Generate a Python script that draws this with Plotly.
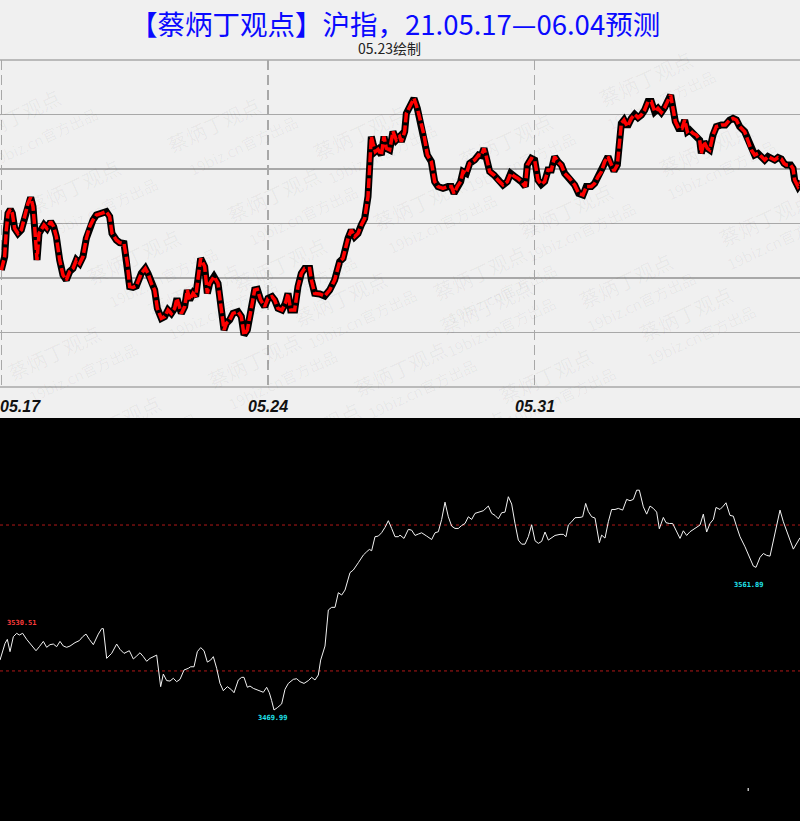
import plotly.graph_objects as go

# ---------------- data ----------------
# x unit: 15-minute bar index (16 bars per trading day)
tick_bars = [0, 80, 160]
tick_labels = ["05.17", "05.24", "05.31"]

# top panel: forecast curve
top_bar = [0,1,1.5,2,2.7,3.3,4,5,6,7, 8,8.8,9.5,10,10.7,11.3,12,12.8,13.7,14.8,
           15.7,16.5,17.5,18.5,19.5,20.5,21.5,22.5,23.5,24.5, 25.5,26.5,27.5,28.5,30,31.5,32.5,33.2,34.5,35.5,
           36.8,37.8,38.5,39.5,40.5,42,43.2,44,45,46, 46.8,48,49,50,51,52,52.7,53.3,54,55,
           55.8,56.5,57.5,58.3,59,59.8,
           61,61.8,62.5,63.8,65,66,66.8,67.5,68.5,69.5, 71,72,72.8,73.8,74.8,76,76.8,77.8,79,80,
           81.2,82,83,84.2,85.2,86,86.8,88,89,90, 91,92.5,93,94,95.5,97,98.5,100,101.5,102.5,
           104,105,106,107,108,109,110,110.5,111,111.5, 112.2,113,114,114.8,115.5,116.5,117.5,118.5,119.5,
           120,121,121.5,122.5,123.8,124.8,125.8,126.8,127.8,129, 130,131,132.5,134,135,135.8,136.8,137.8,138.5,139.5,
           140.5,142,143.2,144,144.8,145.5,146.5,147.8,149,150.5, 151.8,152.8,154,155,156,157.2,157.8,159,160,161,
           162,163,164,165,166,167,168,169,170.5,172, 173.2,174.5,175.5,177,178,179,180,
           181,182,182.8,183.8,184.8,185.5,186,186.8,187.8,189, 190,191,192,193,194,195,196,197,198,199,
           200,200.8,201.5,202.2,203.2,204.2,205,205.8,206.5,207.5, 208.5,209.5,210,210.8,211.8,212.5,213.5,214.5,216,217.2,
           218.5,219.5,220.5,221.5,223,224,225,226,227,228, 229,230,231,232,233,234,234.8,235.5,236.8,237.5,
           238,239,240]
top_val = [3518.5,3525.2,3538.5,3546.8,3548.8,3546.8,3539.3,3536.8,3538.5,3545.2, 3551.8,3554.8,3550.2,3540.2,3523.5,3536.8,3538.5,3541,3539.3,3542.7,
           3540.2,3535.2,3523.5,3516,3513.5,3517.7,3519.3,3523.5,3521.8,3525.2, 3534.3,3540.2,3543.5,3546,3546.8,3547.7,3545.2,3536.8,3533.5,3532.2,
           3531.8,3521.8,3510.2,3509.8,3510.5,3516.8,3519.3,3516.8,3511.8,3508.5, 3499.3,3494.3,3495.2,3498.5,3496.8,3499.3,3504.3,3500.2,3496.8,3500.2,
           3508.5,3503.5,3506.8,3505.2,3515.2,3524.3,
           3520.2,3506.8,3511.8,3515.2,3511.8,3498.5,3488.5,3491.8,3493.5,3496.8, 3497.7,3495.2,3486,3488.5,3498.5,3508.5,3508.8,3503.5,3500.2,3504.3,
           3505.2,3503.5,3499.3,3498.5,3501.8,3506.8,3498.5,3498.5,3510.2,3516.8, 3519.3,3519.3,3513.5,3506.8,3506.5,3505.5,3508.5,3513.5,3522.7,3524.3,
           3534.3,3538.5,3535.2,3536.8,3541,3544.3,3555.2,3570.2,3585.2,3581.8, 3577.7,3578.8,3576,3585.2,3579.3,3578.5,3587.7,3583.5,3585.2,
           3582.7,3587.7,3596.8,3600.2,3604.3,3599.3,3592.7,3586,3576,3572.7, 3562.7,3560.2,3559.3,3560.2,3560.2,3556.8,3560.2,3562.7,3567.7,3566.8,
           3571.8,3573.5,3576,3575.7,3579.3,3575.2,3567.7,3566,3563.5,3561, 3562.7,3566.8,3565.2,3564.3,3562.7,3560.2,3571,3574.3,3573.5,3563.5,
           3561.3,3562.7,3568.5,3568.5,3575.2,3572.7,3571,3566.8,3564.3,3561, 3556.8,3556,3560.2,3560.2,3561.8,3565.2,3567.5,
           3572.7,3575.2,3571.8,3568,3571,3581.8,3591.8,3593.5,3590.2,3594.3, 3596.3,3594.7,3596,3598.5,3602.7,3602.7,3597.7,3599.3,3597.3,3599.7,
           3603.5,3606,3599.3,3592.7,3589.3,3589.3,3593.5,3587.7,3588.5,3586.8, 3586,3583.5,3576.8,3582.7,3579.3,3578.5,3586,3590.2,3591,3591,
           3593.5,3594.3,3593.5,3590.2,3587.7,3583.5,3578.5,3576,3576.8,3575.2, 3573.5,3575.2,3574.3,3573.5,3574.7,3574,3571.8,3571,3571,3569.3,
           3563.5,3560.2,3562.7]
top_grid = [3460, 3487.25, 3514.5, 3541.75, 3569, 3596.25, 3623.5]

# bottom panel: actual index curve
bot_bar = [0,1.5,2.2,3,4,5,5.8,6.8,8,9.5, 10.8,11.8,13,14,15,16,17,18,19,20,
           21,22.5,23.8,24.8,25.8,26.8,28,29.5,30.5,31, 32,33.5,34,35,36,37.2,38.8,40,41,42,
           43,44,45,46,47,48.2,49,50,51,52, 53,54,55.2,56.5,57.2,58.2,59.2,60.2,61.2,62.2,
           63.2,64,65,66,67,68.2,69.5,70.2,71.5,72.5, 73.2,74.2,75,76,77.5,79,80,80.8,81.5,82.2,
           83.2,84.5,85.5,86.5,88,89,90,91.2,92.5,93.5, 94.5,95.5,96.2,97,97.5,98.5,99.5,100.5,101.5,102.5,
           103.5,105,106,107.5,109,110,110.8,111.5,112.5,113.5, 114.5,115.5,116.5,117.5,118.5,119.5,
           120,121.2,122.5,123.5,124.5,125.5,126.5,128,129.5,130.5, 131.5,132.5,133.5,134.5,135.5,136.5,137.5,138.5,139.5,140.5,
           141.5,142.5,144,145,146.5,147.5,148.5,149.5,150.5,151.5, 152.5,153.5,154.5,155.5,156.5,157.5,158.5,159.5,160.5,161.5,
           162.5,163.5,164.5,165.5,166.5,168,169,169.8,170.5,171.5, 172.5,174,174.8,175.7,176.5,177.5,178.5,179.8,180.5,181.5,
           182.5,183.5,184.5,185.5,186.8,188,189,190,191,191.8, 192.5,193,194,195,196,197,197.8,199,199.8,200.8,
           201.8,202.8,204,205,206,207,208,209,210,211, 212,213,214,214.8,216,217,217.8,219,220,221,
           222,223.5,224.8,226,226.8,228,229,230,231,232.5, 234,235,236,237,238,239,240]
bot_val = [3502.1,3512.8,3515.4,3507.5,3517.1,3519.3,3518.2,3519.3,3515.4,3511.1, 3508.1,3510.7,3514.1,3510.3,3512.0,3512.4,3510.7,3514.1,3511.1,3510.3,
           3511.1,3513.3,3514.6,3517.1,3518.8,3515.4,3512.0,3518.8,3522.3,3522.3, 3503.2,3506.4,3508.6,3512.4,3509.0,3506.4,3508.1,3502.8,3504.7,3506.8,
           3504.3,3501.3,3503.2,3504.3,3505.3,3485.0,3493.1,3488.9,3488.6,3490.4, 3488.2,3489.7,3495.7,3496.8,3497.8,3497.8,3507.5,3510.1,3508.1,3500.8,
           3502.1,3504.3,3496.8,3487.1,3482.4,3485.0,3482.9,3481.1,3489.3,3491.0, 3491.0,3484.6,3485.4,3483.9,3482.4,3481.4,3484.6,3481.1,3476.0,3470.0,
           3471.5,3473.9,3483.3,3487.1,3489.7,3490.1,3488.2,3487.1,3488.9,3491.0, 3489.3,3492.5,3502.1,3508.1,3511.1,3534.3,3536.0,3536.0,3545.4,3543.9,
           3547.1,3558.3,3560.0,3564.7,3569.6,3571.7,3573.2,3572.4,3581.4,3581.8, 3584.0,3587.4,3591.7,3586.7,3581.4,3581.4,
           3582.4,3580.3,3586.1,3585.6,3582.2,3583.1,3583.9,3581.8,3579.6,3583.9, 3584.6,3592.5,3603.6,3594.2,3588.2,3586.7,3586.7,3588.6,3589.9,3594.2,
           3592.5,3596.4,3597.2,3598.1,3601.1,3596.4,3595.1,3592.9,3596.8,3597.2, 3607.1,3602.4,3589.9,3579.2,3576.6,3576.6,3581.4,3589.1,3578.8,3577.1,
           3578.4,3584.4,3579.2,3580.9,3582.2,3582.9,3582.9,3581.4,3588.9,3591.0, 3593.6,3593.8,3594.2,3602.8,3597.6,3594.2,3593.4,3577.5,3582.4,3580.5,
           3591.0,3598.9,3598.9,3599.6,3598.5,3605.4,3604.5,3605.4,3611.3,3611.3, 3604.5,3600.6,3595.9,3601.1,3599.6,3597.2,3586.5,3593.8,3590.4,3589.9,
           3589.9,3585.2,3580.3,3585.2,3582.2,3584.6,3586.1,3587.4,3588.9,3595.9, 3584.4,3589.9,3592.5,3600.2,3598.9,3601.1,3603.2,3595.1,3594.6,3587.8,
           3581.4,3574.9,3568.5,3562.5,3561.7,3568.1,3570.6,3569.4,3568.9,3583.5, 3598.5,3591.0,3584.6,3579.2,3573.4,3577.5,3580.7]
bot_levels = [3588.9, 3495.1]
bot_label_text = ["3530.51", "3469.99", "3561.89"]
bot_label_bar = [6.6, 81.9, 224.7]
bot_label_val = [3525.9, 3464.8, 3550.3]
bot_label_color = ["#ff3c3c", "#22e6f0", "#22e6f0"]

title_text = "【蔡炳丁观点】沪指，21.05.17—06.04预测"
subtitle_text = "05.23绘制"
wm_main = "蔡炳丁观点"
wm_sub = "19biz.cn官方出品"

# ---------------- figure ----------------
W, H = 800, 821
TOP_DOM = [(H - 387) / H, (H - 60) / H]
BOT_DOM = [0, (H - 418) / H]
GRID = "#a8a8a8"

fig = go.Figure()

fig.add_trace(go.Scatter(x=top_bar, y=top_val, mode="lines", xaxis="x", yaxis="y",
                         line=dict(color="#000000", width=7), hoverinfo="skip"))
fig.add_trace(go.Scatter(x=top_bar, y=top_val, mode="lines", xaxis="x", yaxis="y",
                         line=dict(color="#ff0000", width=3.5, dash="10px,3px"), hoverinfo="skip"))
fig.add_trace(go.Scatter(x=bot_bar, y=bot_val, mode="lines", xaxis="x2", yaxis="y2",
                         line=dict(color="#f2f2f2", width=1), hoverinfo="skip"))

shapes = [dict(type="rect", xref="paper", yref="paper", x0=0, x1=1, y0=BOT_DOM[0], y1=BOT_DOM[1],
               fillcolor="#000000", line=dict(width=0), layer="below")]
# top/bottom borders of the upper plot area (gridlines at range edges)
for yd in (0, 1):
    shapes.append(dict(type="line", xref="x domain", yref="y domain", x0=0, x1=1, y0=yd, y1=yd,
                       line=dict(color=GRID, width=1.5), layer="below"))
for lv in bot_levels:
    shapes.append(dict(type="line", xref="x2 domain", yref="y2", x0=0, x1=1, y0=lv, y1=lv,
                       line=dict(color="#b01818", width=1, dash="dot"), layer="below"))
# tiny mark in bottom panel
shapes.append(dict(type="rect", xref="paper", yref="paper", x0=747.5 / W, x1=749 / W,
                   y0=(H - 791) / H, y1=(H - 788) / H, fillcolor="#bbbbbb", line=dict(width=0)))

annotations = []
# watermark lattice
for i in range(-3, 9):
    for j in range(-1, 7):
        px = -40 + i * 140 + j * 60
        py = 80 + j * 70 - i * 62
        if -60 < px < 860 and 40 < py < 440:
            annotations.append(dict(xref="paper", yref="paper", x=px / W, y=(H - py) / H,
                                    text=wm_main, showarrow=False, textangle=-25,
                                    font=dict(family="Noto Sans CJK SC", size=20, color="rgba(0,0,0,0.045)")))
            annotations.append(dict(xref="paper", yref="paper", x=(px + 22) / W, y=(H - py - 20) / H,
                                    text=wm_sub, showarrow=False, textangle=-25,
                                    font=dict(family="Noto Sans CJK SC", size=15, color="rgba(0,0,0,0.045)")))

annotations.append(dict(xref="paper", yref="paper", x=395 / W, y=(H - 23) / H, text=title_text,
                        showarrow=False, xanchor="center", yanchor="middle",
                        font=dict(family="Noto Sans CJK SC", size=27.5, color="#0a0aff")))
annotations.append(dict(xref="paper", yref="paper", x=389 / W, y=(H - 48) / H, text=subtitle_text,
                        showarrow=False, xanchor="center", yanchor="middle",
                        font=dict(family="Noto Sans CJK SC", size=14, color="#222222")))
for k, (tb, tl) in enumerate(zip(tick_bars, tick_labels)):
    annotations.append(dict(xref="x", yref="paper", x=tb, y=(H - 406) / H, text="<b><i>" + tl + "</i></b>",
                            showarrow=False, xanchor="left" if k == 0 else "center", yanchor="middle",
                            xshift=-3 if k == 0 else 0,
                            font=dict(family="Liberation Sans", size=16, color="#111111")))
for t, bx, bv, c in zip(bot_label_text, bot_label_bar, bot_label_val, bot_label_color):
    annotations.append(dict(xref="x2", yref="y2", x=bx, y=bv, text="<b>" + t + "</b>", showarrow=False,
                            xanchor="center", yanchor="middle",
                            font=dict(family="DejaVu Sans Mono", size=7, color=c)))

fig.update_layout(
    width=W, height=H, autosize=False,
    margin=dict(l=0, r=0, t=0, b=0, pad=0),
    paper_bgcolor="#f0f0f0", plot_bgcolor="rgba(0,0,0,0)",
    showlegend=False,
    xaxis=dict(domain=[0, 1], range=[-0.4, 239.6], tickvals=tick_bars, showticklabels=False,
               showgrid=True, gridcolor=GRID, gridwidth=1.2, griddash="10px,5px",
               zeroline=False, showline=False, ticks="", fixedrange=True),
    yaxis=dict(domain=TOP_DOM, range=[top_grid[0], top_grid[-1]], tickvals=top_grid, showticklabels=False,
               showgrid=True, gridcolor=GRID, gridwidth=1.5, zeroline=False, showline=False,
               ticks="", fixedrange=True),
    xaxis2=dict(domain=[0, 1], range=[0, 240], anchor="y2", showgrid=False, zeroline=False,
                showticklabels=False, showline=False, ticks="", fixedrange=True),
    yaxis2=dict(domain=BOT_DOM, range=[3398.65, 3657.7], anchor="x2", showgrid=False, zeroline=False,
                showticklabels=False, showline=False, ticks="", fixedrange=True),
    shapes=shapes,
    annotations=annotations,
)

fig.write_html("out.html", config={"displayModeBar": False, "staticPlot": True},
               post_script="document.body.style.margin='0';document.body.style.overflow='hidden';")
